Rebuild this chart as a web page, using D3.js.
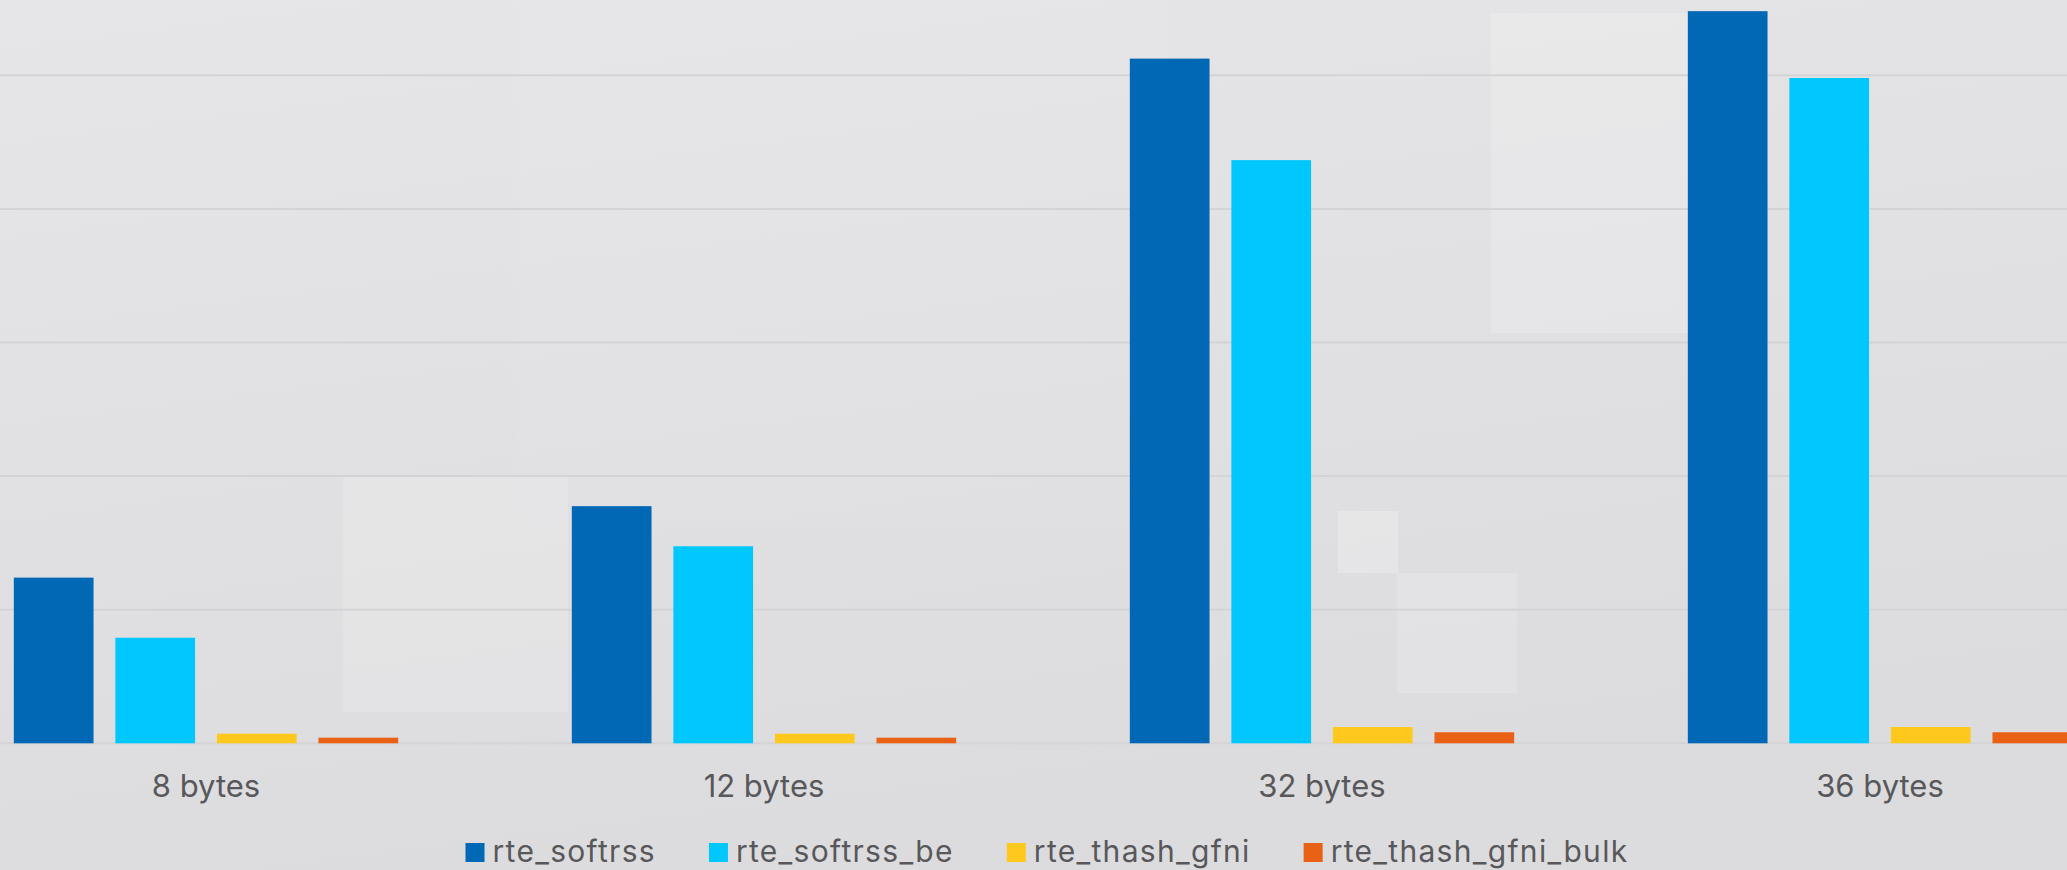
<!DOCTYPE html>
<html lang="en">

<head>
  <meta charset="UTF-8">
  <title>RSS hash bars</title>
  <style>
    body { margin: 0; overflow: hidden; }
    text { font-family: Inter, "Open Sans", sans-serif; fill: #58585b; }
  </style>
</head>
<script src='https://d3js.org/d3.v7.min.js'></script>

<body>
  <div id="d3"></div>
</body>

<script>
  const w = 2067,
    h = 870;

  // chart data
  const categories = ['8 bytes', '12 bytes', '32 bytes', '36 bytes'];
  const seriesNames = ['rte_softrss', 'rte_softrss_be', 'rte_thash_gfni', 'rte_thash_gfni_bulk'];
  const seriesColors = ['#0068b5', '#00c7fd', '#fec91c', '#e96115'];
  const rteSoftrss = [24.8, 35.5, 102.5, 109.6];
  const rteSoftrssBe = [15.8, 29.5, 87.3, 99.6];
  const rteThashGfni = [1.44, 1.44, 2.44, 2.44];
  const rteThashGfniBulk = [0.84, 0.84, 1.65, 1.65];
  const gridTicks = [0, 20, 40, 60, 80, 100];

  const seriesValues = [rteSoftrss, rteSoftrssBe, rteThashGfni, rteThashGfniBulk];

  const svg = d3.select("#d3").append("svg")
    .attr("width", w)
    .attr("height", h)

  // background: grey gradient + a few lighter panels (texture of the slide)
  const defs = svg.append('defs')
  const grad = defs.append('linearGradient')
    .attr('id', 'bg')
    .attr('x1', 0).attr('y1', 0)
    .attr('x2', 0.3).attr('y2', 1)
  grad.append('stop').attr('offset', 0).attr('stop-color', '#e6e6e8')
  grad.append('stop').attr('offset', 1).attr('stop-color', '#dcdcde')

  svg.append('rect')
    .attr('width', w)
    .attr('height', h)
    .attr('fill', 'url(#bg)')

  const panels = [
    [518, 0, 650, 527, '#fff', 0.06],
    [343, 477, 225, 235, '#fff', 0.16],
    [1491, 13, 210, 320, '#fff', 0.18],
    [1338, 511, 60, 62, '#fff', 0.22],
    [1397, 573, 120, 120, '#fff', 0.16]
  ]
  svg.append('g')
    .selectAll('rect')
    .data(panels)
    .enter()
    .append('rect')
    .attr('x', (d) => d[0])
    .attr('y', (d) => d[1])
    .attr('width', (d) => d[2])
    .attr('height', (d) => d[3])
    .attr('fill', (d) => d[4])
    .attr('opacity', (d) => d[5])

  // scales
  const y = d3.scaleLinear()
    .domain([0, 100])
    .range([743.3, 75.3])

  const x0 = d3.scaleBand()
    .domain(categories)
    .range([-73, 2159])

  const x1 = d3.scaleBand()
    .domain(seriesNames)
    .range([0, x0.bandwidth()])
    .paddingInner(0.215)
    .paddingOuter(0.855)

  // grid lines
  svg.append('g')
    .selectAll('line')
    .data(gridTicks)
    .enter()
    .append('line')
    .attr('x1', 0)
    .attr('x2', w)
    .attr('y1', (d) => y(d))
    .attr('y2', (d) => y(d))
    .attr('stroke', '#d4d4d7')
    .attr('stroke-width', 2)

  // bars
  const groups = svg.append('g')
    .selectAll('g')
    .data(categories)
    .enter()
    .append('g')
    .attr('transform', (d) => `translate(${x0(d)},0)`)

  groups.selectAll('rect')
    .data((d, i) => seriesNames.map((s, j) => ({ s, v: seriesValues[j][i], c: seriesColors[j] })))
    .enter()
    .append('rect')
    .attr('x', (d) => x1(d.s))
    .attr('width', x1.bandwidth())
    .attr('y', (d) => y(d.v))
    .attr('height', (d) => y(0) - y(d.v))
    .attr('fill', (d) => d.c)

  // category axis
  const axis = svg.append('g')
    .attr('transform', `translate(0,${y(0)})`)
    .call(d3.axisBottom(x0).tickSize(0).tickPadding(32))
  axis.select('.domain').remove()
  axis.selectAll('text')
    .attr('fill', '#58585b')
    .style('font-size', '31px')
    .style('font-family', 'Inter, "Open Sans", sans-serif')

  // legend
  const legend = svg.append('g')
  const items = legend.selectAll('g')
    .data(seriesNames)
    .enter()
    .append('g')

  items.append('rect')
    .attr('y', 843)
    .attr('width', 19)
    .attr('height', 19)
    .attr('fill', (d, i) => seriesColors[i])

  items.append('text')
    .attr('x', 27)
    .attr('y', 862)
    .style('font-size', '30px')
    .style('letter-spacing', '1.3px')
    .text((d) => d)

  let xPos = 0
  items.each(function () {
    const tw = d3.select(this).select('text').node().getComputedTextLength()
    d3.select(this).attr('transform', `translate(${xPos},0)`)
    xPos += 27 + tw + 53
  })
  const legendWidth = xPos - 53
  legend.attr('transform', `translate(${1047 - legendWidth / 2},0)`)
</script>

</html>
